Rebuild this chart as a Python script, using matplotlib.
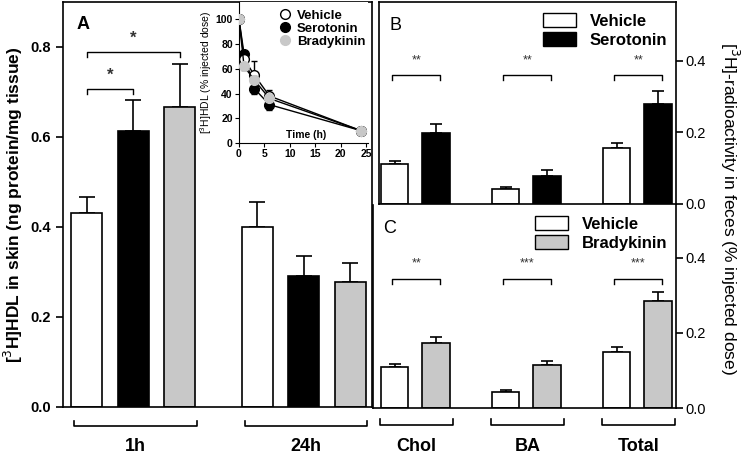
import matplotlib
matplotlib.use("Agg")
import matplotlib.pyplot as plt
from matplotlib.patches import Patch
from matplotlib.lines import Line2D
import numpy as np

plt.rcParams['font.family'] = ['Liberation Sans', 'DejaVu Sans']

W, H = 744, 454

# ---- Panel A: skin uptake
skin_groups = ['1h', '24h']
skin_treatments = ['Vehicle', 'Serotonin', 'Bradykinin']
skin_mean = [[0.431, 0.613, 0.667], [0.400, 0.291, 0.278]]
skin_sem = [[0.036, 0.069, 0.095], [0.056, 0.045, 0.042]]

# ---- inset: plasma decay
time_h = [0, 1, 3, 6, 24]
kin_vehicle = [100, 68, 55, 38, 10]
kin_vehicle_err = [0, 0, 11, 5, 0]
kin_serotonin = [100, 72, 44, 31, 10]
kin_serotonin_err = [0, 0, 4, 4, 0]
kin_bradykinin = [100, 62, 51, 36, 10]
kin_bradykinin_err = [0, 3, 3, 2, 0]

# ---- Panels B, C: feces
feces_fractions = ['Chol', 'BA', 'Total']
b_vehicle = [0.112, 0.042, 0.157]
b_vehicle_err = [0.008, 0.006, 0.014]
b_serotonin = [0.199, 0.078, 0.280]
b_serotonin_err = [0.025, 0.017, 0.036]
b_stars = ['**', '**', '**']
c_vehicle = [0.109, 0.043, 0.149]
c_vehicle_err = [0.008, 0.005, 0.014]
c_bradykinin = [0.173, 0.115, 0.285]
c_bradykinin_err = [0.016, 0.010, 0.024]
c_stars = ['**', '***', '***']

GRAY = '#c8c8c8'
colors = ['white', 'black', GRAY]
LW = 1.2


def px_rect(x0, y0, x1, y1):
    return [x0 / W, 1 - y1 / H, (x1 - x0) / W, (y1 - y0) / H]


def group_bracket(ax, x0, x1, label, y_line, y_tick, y_text, bold):
    tr = ax.get_xaxis_transform()
    ax.plot([x0, x0, x1, x1], [y_tick, y_line, y_line, y_tick], color='black',
            lw=LW, transform=tr, clip_on=False)
    ax.text((x0 + x1) / 2, y_text, label, transform=tr, ha='center', va='center',
            fontsize=13, fontweight='bold' if bold else 'normal')


def sig_bracket(ax, x0, x1, y, drop, text, fs, bold, gap):
    ax.plot([x0, x0, x1, x1], [y - drop, y, y, y - drop], color='black', lw=1.0)
    ax.text((x0 + x1) / 2, y + gap, text, ha='center', va='center', fontsize=fs,
            fontweight='bold' if bold else 'normal', color='#333333')


fig = plt.figure(figsize=(W / 100, H / 100), dpi=100)

# ================= Panel A
axA = fig.add_axes(px_rect(63, 2, 372, 407))
width = 0.667
offsets = [0, 3.667]
for g, off in enumerate(offsets):
    pos = off + np.arange(3)
    axA.bar(pos, skin_mean[g], width=width, color=colors, edgecolor='black',
            linewidth=LW, zorder=2)
    axA.errorbar(pos, skin_mean[g], yerr=[np.zeros(3), skin_sem[g]], fmt='none',
                 ecolor='black', elinewidth=LW, capsize=5.5, capthick=LW, zorder=1)
axA.set_xlim(-0.516, 6.13)
axA.set_ylim(0, 0.9)
axA.set_yticks([0, 0.2, 0.4, 0.6, 0.8])
axA.set_yticklabels(['0.0', '0.2', '0.4', '0.6', '0.8'], fontsize=10.5, fontweight='bold')
axA.set_xticks([])
axA.tick_params(axis='y', length=5, width=LW)
for s in axA.spines.values():
    s.set_linewidth(LW)
axA.set_ylabel('[$^3$H]HDL in skin (ng protein/mg tissue)', fontsize=12.5,
               fontweight='bold', labelpad=4)
axA.text(0.045, 0.945, 'A', transform=axA.transAxes, fontsize=13, fontweight='bold',
         ha='left', va='center')
sig_bracket(axA, 0, 1, 0.707, 0.012, '*', 12, True, 0.03)
sig_bracket(axA, 0, 2, 0.789, 0.012, '*', 12, True, 0.03)
for g, off in enumerate(offsets):
    group_bracket(axA, off - 0.27, off + 2.36, skin_groups[g], -0.047, -0.035, -0.097, True)

# ================= inset
axI = fig.add_axes(px_rect(239, 2, 368, 143))
axI.set_facecolor('white')
axI.errorbar(time_h, kin_serotonin, yerr=[kin_serotonin_err, np.zeros(5)], color='black',
             lw=1.0, marker='o', ms=7, mfc='black', mec='black', capsize=2.5,
             elinewidth=1.0, zorder=3)
axI.errorbar(time_h, kin_vehicle, yerr=[np.zeros(5), kin_vehicle_err], color='black',
             lw=1.0, marker='o', ms=7, mfc='white', mec='black', capsize=2.5,
             elinewidth=1.0, zorder=4)
axI.errorbar(time_h, kin_bradykinin, yerr=kin_bradykinin_err, color='black',
             lw=1.0, marker='o', ms=7, mfc=GRAY, mec=GRAY, capsize=2.5,
             elinewidth=1.0, zorder=5)
axI.set_xlim(0, 25.4)
axI.set_ylim(0, 114)
axI.set_xticks([0, 5, 10, 15, 20, 25])
axI.set_yticks([0, 20, 40, 60, 80, 100])
axI.tick_params(labelsize=7.5, length=3, width=0.8, pad=1.5)
for lab in axI.get_xticklabels() + axI.get_yticklabels():
    lab.set_fontweight('bold')
axI.spines['top'].set_visible(False)
axI.spines['right'].set_visible(False)
axI.spines['left'].set_linewidth(0.8)
axI.spines['bottom'].set_linewidth(0.8)
axI.set_ylabel('[$^3$H]HDL (% injected dose)', fontsize=7.5, labelpad=1)
axI.text(0.52, 0.06, 'Time (h)', transform=axI.transAxes, fontsize=7.5,
         fontweight='bold', ha='center', va='center')
inset_handles = [
    Line2D([], [], ls='none', marker='o', ms=7, mfc='white', mec='black'),
    Line2D([], [], ls='none', marker='o', ms=7, mfc='black', mec='black'),
    Line2D([], [], ls='none', marker='o', ms=7, mfc=GRAY, mec=GRAY),
]
axI.legend(inset_handles, skin_treatments, loc='upper right', bbox_to_anchor=(1.07, 1.03),
           frameon=False, handlelength=1.0, handletextpad=0.4, labelspacing=0.05,
           prop={'size': 9.5, 'weight': 'bold'})

# ================= Panels B and C
pair_pos = np.array([0, 2.675, 5.35])
bc_width = 0.667
PX_UNIT = 41.5
FIRST_CENTER = 394.5
RIGHT_EDGE = 676


def feces_panel(x_left, y_top, y_bot, ylim, veh, veh_err, trt, trt_err, trt_color,
                trt_name, stars, sig_y, letter):
    ax = fig.add_axes(px_rect(x_left, y_top, RIGHT_EDGE, y_bot))
    ax.bar(pair_pos, veh, width=bc_width, color='white', edgecolor='black',
           linewidth=LW, zorder=2)
    ax.bar(pair_pos + 1, trt, width=bc_width, color=trt_color, edgecolor='black',
           linewidth=LW, zorder=2)
    ax.errorbar(pair_pos, veh, yerr=[np.zeros(3), veh_err], fmt='none', ecolor='black',
                elinewidth=LW, capsize=4.5, capthick=LW, zorder=1)
    ax.errorbar(pair_pos + 1, trt, yerr=[np.zeros(3), trt_err], fmt='none', ecolor='black',
                elinewidth=LW, capsize=4.5, capthick=LW, zorder=1)
    ax.set_xlim(-(FIRST_CENTER - x_left) / PX_UNIT, (RIGHT_EDGE - FIRST_CENTER) / PX_UNIT)
    ax.set_ylim(*ylim)
    ax.set_xticks([])
    ax.yaxis.tick_right()
    ax.set_yticks([0, 0.2, 0.4])
    ax.set_yticklabels(['0.0', '0.2', '0.4'], fontsize=10.5)
    ax.tick_params(axis='y', length=5, width=LW, pad=2)
    for s in ax.spines.values():
        s.set_linewidth(LW)
    ax.text(0.035, 0.885, letter, transform=ax.transAxes, fontsize=13, ha='left',
            va='center')
    for p, st in zip(pair_pos, stars):
        sig_bracket(ax, p - 0.05, p + 1.1, sig_y, 0.014, st, 9, False, 0.04)
    ax.legend([Patch(facecolor='white', edgecolor='black', linewidth=1.0),
               Patch(facecolor=trt_color, edgecolor='black', linewidth=1.0)],
              ['Vehicle', trt_name], loc='upper right', bbox_to_anchor=(1.02, 1.02),
              frameon=False, handlelength=2.0, handleheight=0.9, handletextpad=0.8,
              labelspacing=0.2, prop={'size': 12, 'weight': 'bold'})
    return ax


axB = feces_panel(379, 2, 204, (0, 0.565), b_vehicle, b_vehicle_err,
                  b_serotonin, b_serotonin_err, 'black', 'Serotonin', b_stars, 0.361, 'B')
axC = feces_panel(373, 205, 408, (0, 0.541), c_vehicle, c_vehicle_err,
                  c_bradykinin, c_bradykinin_err, GRAY, 'Bradykinin', c_stars, 0.344, 'C')
axC.spines['top'].set_visible(False)
for p, name in zip(pair_pos, feces_fractions):
    group_bracket(axC, p - 0.35, p + 1.4, name, -0.084, -0.054, -0.19, True)

fig.text(730 / W, 1 - 208 / H, '[$^3$H]-radioactivity in feces (% injected dose)',
         rotation=270, ha='center', va='center', fontsize=12.5)

fig.savefig('out.png', dpi=100)
